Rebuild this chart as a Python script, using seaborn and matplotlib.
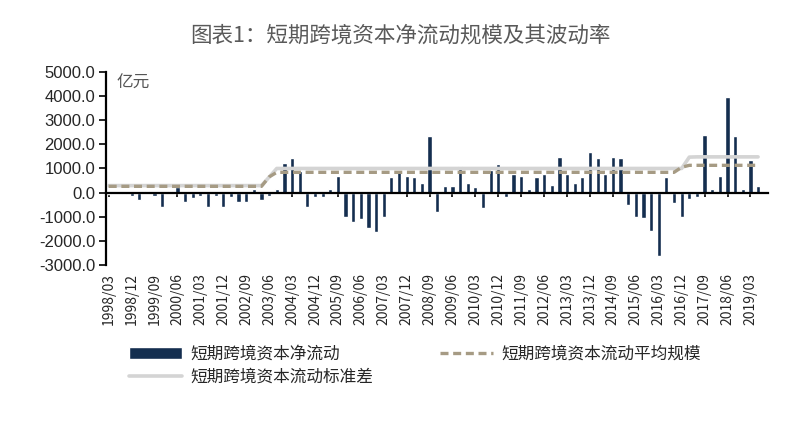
import matplotlib

matplotlib.use("Agg")

import matplotlib.pyplot as plt
import pandas as pd
import seaborn as sns


QUARTERS = [f"{year}/{month:02d}" for year in range(1998, 2020) for month in (3, 6, 9, 12)][:86]

NET_FLOW = [
    -50, -30, -60, -140, -300, 50, -140, -600, 80, 220,
    -370, -230, -160, -600, -130, -600, -190, -370, -370, 130,
    -300, -160, 140, 1220, 1420, 900, -600, -170, -190, 150,
    690, -990, -1230, -1100, -1470, -1650, -990, 630, 910, 690,
    630, 390, 2340, -810, 280, 280, 1120, 390, 220, -630,
    940, 1170, -190, 780, 690, 140, 630, 760, 320, 1490,
    760, 390, 630, 1670, 1420, 770, 1490, 1420, -510, -990,
    -1060, -1610, -2620, 630, -440, -990, -260, -190, 2380, 150,
    690, 3970, 2340, 140, 1350, 280,
]

MEAN_SCALE = [
    260, 260, 260, 260, 260, 260, 260, 260, 260, 260,
    260, 260, 260, 260, 260, 260, 260, 260, 260, 260,
    260, 650, 840, 840, 840, 840, 840, 840, 840, 840,
    840, 840, 840, 840, 840, 840, 840, 840, 840, 840,
    840, 840, 840, 840, 840, 840, 840, 840, 840, 840,
    840, 840, 840, 840, 840, 840, 840, 840, 840, 840,
    840, 840, 840, 840, 840, 840, 840, 840, 840, 840,
    840, 840, 840, 840, 840, 1050, 1130, 1130, 1130, 1130,
    1130, 1130, 1130, 1130, 1130, 1130,
]

STD_DEV = [
    290, 290, 290, 290, 290, 290, 290, 290, 290, 290,
    290, 290, 290, 290, 290, 290, 290, 290, 290, 290,
    290, 640, 1000, 1000, 1000, 1000, 1000, 1000, 1000, 1000,
    1000, 1000, 1000, 1000, 1000, 1000, 1000, 1000, 1000, 1000,
    1000, 1000, 1000, 1000, 1000, 1000, 1000, 1000, 1000, 1000,
    1000, 1000, 1000, 1000, 1000, 1000, 1000, 1000, 1000, 1000,
    1000, 1000, 1000, 1000, 1000, 1000, 1000, 1000, 1000, 1000,
    1000, 1000, 1000, 1000, 1000, 1000, 1470, 1480, 1480, 1480,
    1480, 1480, 1480, 1480, 1480, 1480,
]

Y_TICKS = [5000, 4000, 3000, 2000, 1000, 0, -1000, -2000, -3000]

LABELS = ["短期跨境资本净流动", "短期跨境资本流动标准差", "短期跨境资本流动平均规模"]

sns.set_style("white")
plt.rcParams["font.family"] = ["Noto Sans CJK SC", "DejaVu Sans"]

data = pd.DataFrame({
    "quarter": QUARTERS,
    "pos": range(len(QUARTERS)),
    "flow": NET_FLOW,
    "mean": MEAN_SCALE,
    "std": STD_DEV,
})

fig = plt.figure(figsize=(8, 4.41), dpi=100)
ax = fig.add_axes([0.133, 0.399, 0.827, 0.438])

sns.barplot(data=data, x="quarter", y="flow", color="#142e4f", width=0.55,
            saturation=1, ax=ax, zorder=2, label=LABELS[0])
sns.lineplot(data=data, x="pos", y="std", color="#d4d4d4", linewidth=2.6,
             ax=ax, zorder=3, label=LABELS[1])
sns.lineplot(data=data, x="pos", y="mean", color="#a69b84", linewidth=2.4,
             linestyle=(0, (2.4, 1.4)), ax=ax, zorder=4, label=LABELS[2])

ax.set_ylim(-3000, 5000)
ax.set_xlim(-0.3, 86.3)
ax.set_yticks(Y_TICKS)
ax.set_yticklabels([f"{v:.1f}" for v in Y_TICKS], fontfamily="Liberation Sans", fontsize=12)

tick_pos = list(range(0, len(QUARTERS), 3))
ax.set_xticks(tick_pos)
ax.set_xticklabels([QUARTERS[i] for i in tick_pos], fontfamily="Liberation Sans", fontsize=12)

ax.spines["top"].set_visible(False)
ax.spines["right"].set_visible(False)
ax.spines["bottom"].set_position(("data", 0))
ax.spines["bottom"].set_linewidth(1.6)
ax.spines["bottom"].set_color("black")
ax.spines["left"].set_linewidth(1.6)
ax.spines["left"].set_color("black")
ax.tick_params(axis="y", direction="out", length=5, width=1.4, left=True, pad=3)
ax.tick_params(axis="x", direction="out", length=3, width=1.4, bottom=True, pad=55,
               labelrotation=90)
ax.set_xlabel("")
ax.set_ylabel("")

ax.text(0.015, 0.92, "亿元", transform=ax.transAxes, fontsize=12, color="#555555")

fig.text(0.5, 0.92, "图表1：短期跨境资本净流动规模及其波动率", ha="center", va="center",
         fontsize=15.5, color="#595959")

handles, labels = ax.get_legend_handles_labels()
order = [labels.index(name) for name in LABELS]
ax.get_legend().remove()
fig.legend([handles[i] for i in order], [labels[i] for i in order],
           loc="upper left", bbox_to_anchor=(0.142, 0.25), ncol=2, frameon=False,
           fontsize=12, handlelength=3.2, handleheight=0.8, columnspacing=4.0,
           labelspacing=0.35, handletextpad=0.5)

fig.savefig("out.png", dpi=100)
